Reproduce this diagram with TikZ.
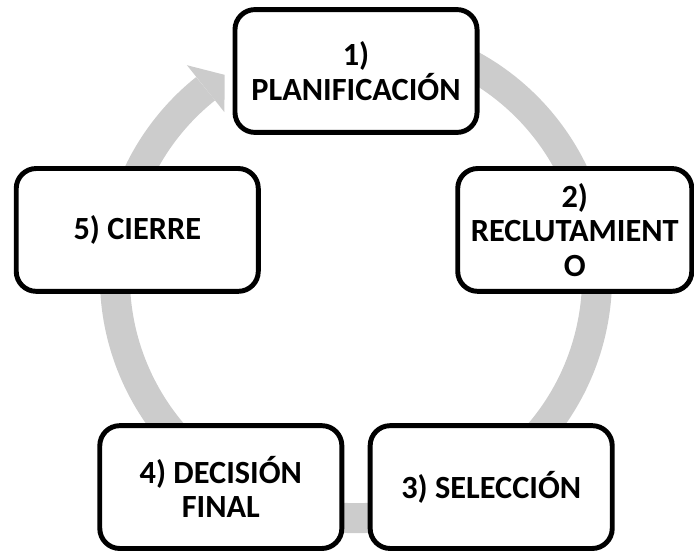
\documentclass[tikz,border=0pt]{standalone}
\usepackage{fontspec}
\setmainfont{Carlito}
\definecolor{grisflecha}{RGB}{204,204,204}

\begin{document}
\begin{tikzpicture}[
        x=0.025cm, y=0.025cm,
        etapa/.style={rectangle, draw, line width=3.5pt, rounded corners=0.5cm, fill=white,
            minimum width=6.05cm, minimum height=3.07cm, align=center,
            font=\fontsize{23}{24.5}\selectfont\bfseries},
        flecha/.style={draw=grisflecha, line width=0.75cm}
    ]
        \useasboundingbox (0,0) rectangle (694,552);

        % Flecha circular de fondo
        \coordinate (giro) at (356,275);
        \draw[flecha] ([shift={(80:241)}]giro) arc[start angle=80, end angle=-231.4, radius=6.025cm];
        \fill[grisflecha] ([shift={(128.6:271)}]giro) -- ([shift={(123:241)}]giro)
            -- ([shift={(128.6:211)}]giro) -- cycle;

        % Etapas del proceso
        \coordinate (medio) at (356,251);
        \node[etapa] (planificacion) at ([shift={(90:230)}]medio) {1)\\PLANIFICACIÓN};
        \node[etapa, minimum width=5.85cm] (reclutamiento) at ([shift={(18:230)}]medio) {2)\\RECLUTAMIENT\\O};
        \node[etapa] (seleccion) at ([shift={(-54:230)}]medio) {3) SELECCIÓN};
        \node[etapa] (decision) at ([shift={(-126:230)}]medio) {4) DECISIÓN\\FINAL};
        \node[etapa] (cierre) at ([shift={(162:230)}]medio) {5) CIERRE};
    \end{tikzpicture}
\end{document}
